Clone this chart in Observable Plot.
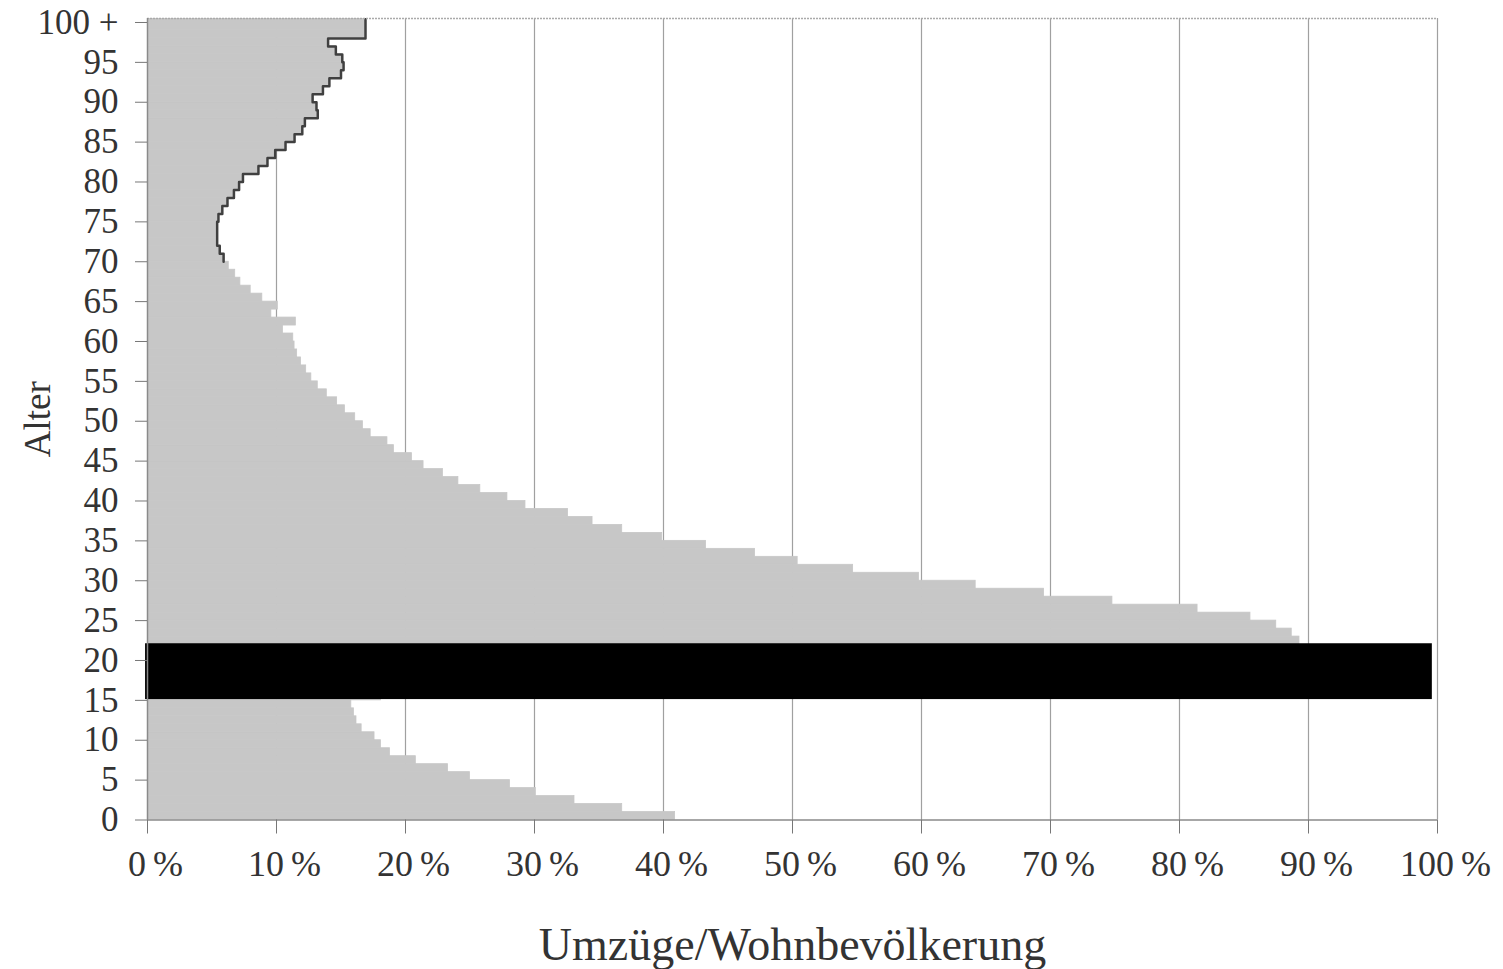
<!DOCTYPE html>
<html>
<head>
<meta charset="utf-8">
<script src="https://cdn.jsdelivr.net/npm/d3@7"></script>
<script src="https://cdn.jsdelivr.net/npm/@observablehq/plot@0.6"></script>
<style>
  html, body { margin: 0; padding: 0; background: #ffffff; }
  #chart svg { display: block; }
  g[aria-label="x-axis label"] text { font-size: 46px; }
  g[aria-label="y-axis label"] text { font-size: 37px; }
</style>
</head>
<body>
<div id="chart"></div>
<script>
// Age (Alter) 0..100+
const ages = d3.range(0, 101);
// Umzüge/Wohnbevölkerung in % per age (16–21 hidden by the black bar in the source)
const rates = [
  40.9, 36.8, 33.1, 30.1, 28.1, 25.0, 23.3, 20.8, 18.8, 18.1, // 0-9
  17.6, 16.6, 16.2, 16.0, 15.8, 18.1, null, null, null, null, // 10-19
  null, null, 89.3, 88.7, 87.5, 85.5, 81.4, 74.8, 69.5, 64.2, // 20-29
  59.8, 54.7, 50.4, 47.1, 43.3, 39.9, 36.8, 34.5, 32.6, 29.3, // 30-39
  27.9, 25.8, 24.1, 22.9, 21.4, 20.5, 19.1, 18.6, 17.3, 16.7, // 40-49
  16.1, 15.3, 14.7, 13.9, 13.2, 12.7, 12.3, 11.9, 11.6, 11.4, // 50-59
  11.3, 10.5, 11.5, 9.6, 10.1, 8.9, 8.0, 7.2, 6.8, 6.3,      // 60-69
  5.9, 5.6, 5.4, 5.4, 5.4, 5.5, 5.8, 6.2, 6.7, 7.1,          // 70-79
  7.4, 8.6, 9.3, 9.9, 10.7, 11.4, 12.0, 12.2, 13.2, 13.1,    // 80-89
  12.8, 13.6, 14.1, 15.0, 15.2, 15.1, 14.6, 14.0, 16.9, 16.9, // 90-99
  16.9                                                        // 100+
];
const yTicks = d3.range(0, 101, 5);
const xTicks = d3.range(0, 101, 10);
// the source image has these ages covered by a black bar
const maskedAges = [{from: 15.1, to: 22.1}];

const data = ages.map((a, i) => ({age: a, rate: rates[i]})).filter(d => d.rate != null);
const outline = data.filter(d => d.age >= 70)
  .flatMap(d => [{age: d.age, rate: d.rate}, {age: d.age + 1, rate: d.rate}]);

const chart = Plot.plot({
  width: 1503,
  height: 969,
  marginLeft: 147,
  marginRight: 66,
  marginTop: 18,
  marginBottom: 149.5,
  style: {fontFamily: "'Liberation Serif', 'DejaVu Serif', serif", color: "#333", background: "#ffffff"},
  x: {domain: [0, 100]},
  y: {domain: [0, 100.5]},
  marks: [
    Plot.ruleX(xTicks.filter(t => t > 0), {stroke: "#a0a0a0", strokeWidth: 1.2}),
    Plot.rectX(data, {x1: 0, x2: "rate", y1: "age", y2: d => d.age + 1, fill: "#c7c7c7", stroke: "#c7c7c7", strokeWidth: 0.8, clip: true}),
    Plot.line(outline, {x: "rate", y: "age", stroke: "#404040", strokeWidth: 2.5, clip: true}),
    Plot.rect(maskedAges, {x1: -0.15, x2: 99.6, y1: "from", y2: "to", fill: "#000"}),
    Plot.ruleY([100.5], {stroke: "#aaaaaa", strokeWidth: 1.5, strokeDasharray: "2,1"}),
    Plot.ruleX([0], {stroke: "#8a8a8a", strokeWidth: 1.5}),
    Plot.ruleY([0], {stroke: "#8a8a8a", strokeWidth: 1.5}),
    Plot.axisY({
      ticks: yTicks,
      tickFormat: d => d === 100 ? "100 +" : String(d),
      tickSize: 12,
      tickPadding: 17,
      fontSize: 35,
      stroke: "#777",
      label: "Alter",
      labelAnchor: "center",
      labelArrow: "none",
      labelOffset: 124
    }),
    // tick marks only
    Plot.axisX({
      ticks: xTicks,
      tickFormat: () => "",
      tickSize: 14,
      stroke: "#777",
      label: null
    }),
    // tick labels (slightly right of the ticks, as in the source) and axis title
    Plot.axisX({
      ticks: xTicks,
      tickFormat: d => d + "\u2009%",
      tickSize: 0,
      tickPadding: 30,
      fontSize: 36,
      dx: 8,
      label: null
    }),
    Plot.axisX({
      ticks: [],
      label: "Umzüge/Wohnbevölkerung",
      labelAnchor: "center",
      labelArrow: "none",
      labelOffset: 140
    })
  ]
});
document.getElementById("chart").appendChild(chart);
</script>
</body>
</html>
